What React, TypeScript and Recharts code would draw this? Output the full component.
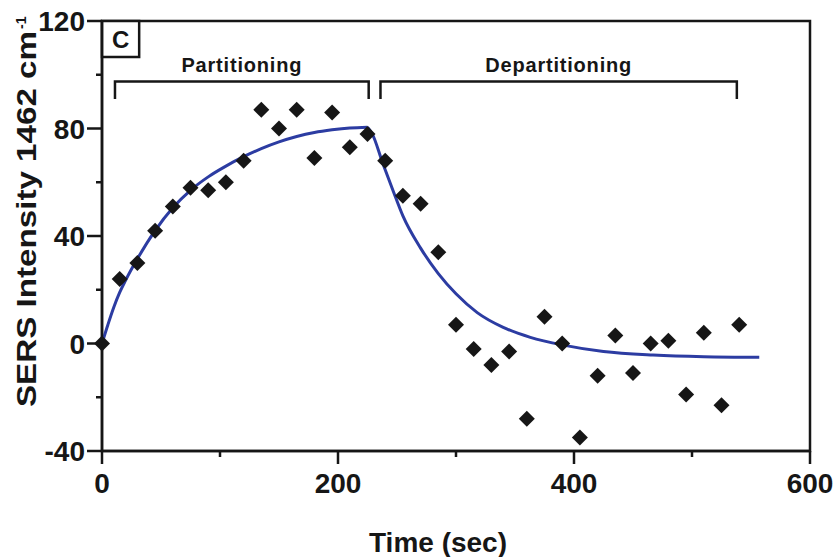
import { ComposedChart, Line, Scatter, XAxis, YAxis, ReferenceArea } from "recharts";

// measured points, one every 15 s
const times = [
  0, 15, 30, 45, 60, 75, 90, 105, 120, 135, 150, 165, 180, 195, 210, 225,
  240, 255, 270, 285, 300, 315, 330, 345, 360, 375, 390, 405, 420, 435, 450, 465,
  480, 495, 510, 525, 540,
];
const intensity = [
  0, 24, 30, 42, 51, 58, 57, 60, 68, 87, 80, 87, 69, 86, 73, 78,
  68, 55, 52, 34, 7, -2, -8, -3, -28, 10, 0, -35, -12, 3, -11, 0,
  1, -19, 4, -23, 7,
];

// fitted curve
const riseTimes = [0, 5, 10, 15, 20, 30, 45, 60, 75, 90, 105, 120, 135, 150, 165, 180, 195, 210, 225];
const riseFit = [0, 7, 13.5, 19, 23.5, 31.5, 42, 50.5, 57, 62, 66, 69.5, 72.5, 75, 77, 78.5, 79.5, 80.2, 80.5];
const fallTimes = [225, 229, 238, 247, 255, 270, 285, 300, 318, 340, 363, 391, 425, 467, 510, 557];
const fallFit = [80.5, 78, 67, 56.5, 47.5, 35.5, 26, 18.5, 11.5, 6, 2.3, -0.6, -3, -4.3, -4.9, -5.1];

// phase brackets
const phaseNames = ["Partitioning", "Departitioning"];
const phaseStart = [11, 236];
const phaseEnd = [226, 538];
const bracketTop = 97.5;
const bracketLeg = 91;
const phaseLabelY = 101;

const xTicks = [0, 100, 200, 300, 400, 500, 600];
const yTicks = [-40, -20, 0, 20, 40, 60, 80, 100, 120];

const INK = "#161616";
const BLUE = "#2c3ca2";
const FONT = '"Liberation Sans", Arial, Helvetica, sans-serif';

const points = times.map((t, i) => ({ t, v: intensity[i] }));
const rise = riseTimes.map((t, i) => ({ t, v: riseFit[i] }));
const fall = fallTimes.map((t, i) => ({ t, v: fallFit[i] }));
const brackets = phaseNames.map((_, i) => [
  { t: phaseStart[i], v: bracketLeg },
  { t: phaseStart[i], v: bracketTop },
  { t: phaseEnd[i], v: bracketTop },
  { t: phaseEnd[i], v: bracketLeg },
]);
const phaseLabels = phaseNames.map((name, i) => ({
  t: (phaseStart[i] + phaseEnd[i]) / 2,
  v: phaseLabelY,
  name,
}));

function Diamond({ cx, cy }: any) {
  const r = 8;
  return (
    <polygon
      points={`${cx},${cy - r} ${cx + r},${cy} ${cx},${cy + r} ${cx - r},${cy}`}
      fill={INK}
    />
  );
}

function PhaseText(props: any) {
  const name = props.payload?.name ?? props.name;
  return (
    <text
      x={props.cx}
      y={props.cy}
      textAnchor="middle"
      fontFamily={FONT}
      fontWeight={700}
      fontSize={20}
      letterSpacing={0.8}
      fill={INK}
    >
      {name}
    </text>
  );
}

function PanelLetter({ viewBox }: any) {
  const { x, y, width, height } = viewBox;
  return (
    <text x={x + width / 2} y={y + height / 2 + 8.5} textAnchor="middle" fontFamily={FONT} fontWeight={700} fontSize={24} fill={INK}>
      C
    </text>
  );
}

function XTick({ x, y, payload }: any) {
  const major = payload.value % 200 === 0;
  return (
    <g>
      <line x1={x} x2={x} y1={y} y2={y + (major ? 13 : 6)} stroke={INK} strokeWidth={2.5} />
      {major && (
        <text x={x} y={y + 42} textAnchor="middle" fontFamily={FONT} fontWeight={700} fontSize={28} fill={INK}>
          {payload.value}
        </text>
      )}
    </g>
  );
}

function YTick({ x, y, payload }: any) {
  const major = payload.value % 40 === 0;
  return (
    <g>
      <line x1={x - (major ? 15 : 6)} x2={x} y1={y} y2={y} stroke={INK} strokeWidth={2.5} />
      {major && (
        <text x={x - 17} y={y + 10} textAnchor="end" fontFamily={FONT} fontWeight={700} fontSize={28} fill={INK}>
          {payload.value}
        </text>
      )}
    </g>
  );
}

function XLabel({ viewBox }: any) {
  const { x, y, width } = viewBox;
  return (
    <text x={x + width / 2 - 18} y={y + 101} textAnchor="middle" fontFamily={FONT} fontWeight={700} fontSize={28} fill={INK}>
      Time (sec)
    </text>
  );
}

function YLabel({ viewBox }: any) {
  const { y, height } = viewBox;
  const base = y + height - 44;
  return (
    <g fontFamily={FONT} fontWeight={700} fill={INK}>
      <text transform={`translate(36,${base}) rotate(-90)`} fontSize={27} textLength={376} lengthAdjust="spacingAndGlyphs">
        SERS Intensity 1462 cm
      </text>
      <text transform={`translate(26,${base - 378}) rotate(-90)`} fontSize={14}>
        -1
      </text>
    </g>
  );
}

export default function App() {
  return (
    <div style={{ position: "absolute", left: 0, top: 0, width: 838, height: 557, background: "#fff" }}>
      <ComposedChart width={838} height={557} margin={{ top: 21, right: 28, bottom: 0, left: 0 }}>
        <XAxis
          type="number"
          dataKey="t"
          domain={[0, 600]}
          ticks={xTicks}
          interval={0}
          height={106}
          tickSize={0}
          tickMargin={0}
          tickLine={false}
          axisLine={{ stroke: INK, strokeWidth: 2.5 }}
          tick={<XTick />}
          label={(p: any) => <XLabel {...p} />}
        />
        <YAxis
          type="number"
          domain={[-40, 120]}
          ticks={yTicks}
          interval={0}
          width={102}
          tickSize={0}
          tickMargin={0}
          tickLine={false}
          axisLine={{ stroke: INK, strokeWidth: 2.5 }}
          tick={<YTick />}
          label={(p: any) => <YLabel {...p} />}
        />
        <ReferenceArea x1={0} x2={600} y1={-40} y2={120} fill="none" stroke={INK} strokeWidth={2.5} ifOverflow="visible" />
        <ReferenceArea
          x1={0}
          x2={31.5}
          y1={106.6}
          y2={120}
          fill="#fff"
          fillOpacity={1}
          stroke={INK}
          strokeWidth={2.5}
          ifOverflow="visible"
          label={(p: any) => <PanelLetter {...p} />}
        />
        {brackets.map((b, i) => (
          <Line
            key={phaseNames[i]}
            data={b}
            dataKey="v"
            type="linear"
            stroke={INK}
            strokeWidth={2.5}
            dot={false}
            activeDot={false}
            isAnimationActive={false}
          />
        ))}
        <Scatter data={phaseLabels} dataKey="v" shape={<PhaseText />} isAnimationActive={false} />
        <Line data={rise} dataKey="v" type="monotone" stroke={BLUE} strokeWidth={3} dot={false} activeDot={false} isAnimationActive={false} />
        <Line data={fall} dataKey="v" type="monotone" stroke={BLUE} strokeWidth={3} dot={false} activeDot={false} isAnimationActive={false} />
        <Scatter data={points} dataKey="v" fill={INK} shape={<Diamond />} isAnimationActive={false} />
      </ComposedChart>
    </div>
  );
}
